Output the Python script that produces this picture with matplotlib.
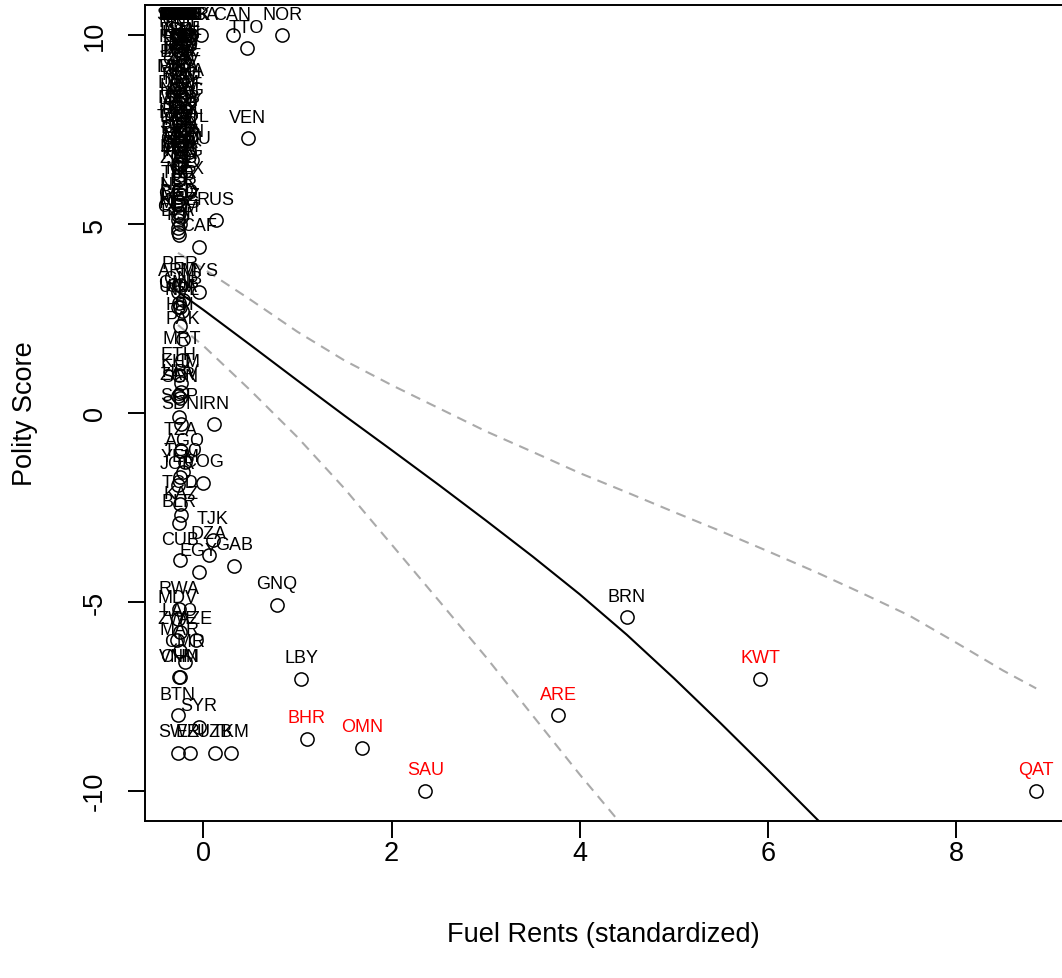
### IMPORTS ###
import matplotlib
matplotlib.use("Agg")
import matplotlib.pyplot as plt

plt.rcParams['font.family'] = ['Liberation Sans', 'DejaVu Sans']

### DATA ###
# country code, fuel rents (standardized), polity score
codes = ['AUS', 'AUT', 'BEL', 'CHE', 'CRI', 'CYP', 'CZE', 'DEU', 'DNK', 'ESP',
         'FIN', 'GRC', 'IRL', 'ISL', 'ITA', 'JPN', 'LTU', 'LUX', 'NLD', 'NZL',
         'PRT', 'SVN', 'SWE', 'URY', 'SVK', 'GBR', 'USA', 'CAN', 'NOR', 'MNG',
         'POL', 'TTO', 'CHL', 'FRA', 'ISR', 'HUN', 'KOR', 'EST', 'SLV', 'IND',
         'JAM', 'PAN', 'LVA', 'BGR', 'ZAF', 'CPV', 'BWA', 'MUS', 'BRA', 'ROU',
         'MNE', 'DOM', 'LSO', 'ARG', 'NIC', 'NAM', 'SRB', 'MKD', 'GUY', 'HND',
         'PRY', 'BOL', 'MDA', 'COL', 'TWN', 'PHL', 'VEN', 'SUR', 'GHA', 'BEN',
         'IDN', 'MLI', 'UKR', 'ECU', 'GTM', 'THA', 'SLB', 'MWI', 'LKA', 'ALB',
         'PNG', 'KEN', 'ZMB', 'MEX', 'TUR', 'LBR', 'NER', 'BGD', 'MOZ', 'GEO',
         'RUS', 'KGZ', 'MDG', 'COM', 'BFA', 'FJI', 'CAF', 'PER', 'ARM', 'MYS',
         'GNB', 'GMB', 'CIV', 'UGA', 'NPL', 'HTI', 'PAK', 'MRT', 'ETH', 'KHM',
         'HRV', 'ZAR', 'SEN', 'SGP', 'SDN', 'IRN', 'TZA', 'AGO', 'TGO', 'YEM',
         'COG', 'JOR', 'TCD', 'KAZ', 'BLR', 'TJK', 'DZA', 'CUB', 'EGY', 'GAB',
         'RWA', 'MDV', 'GNQ', 'LAO', 'ZWE', 'AZE', 'MAR', 'CMR', 'CHN', 'VNM',
         'LBY', 'BTN', 'SYR', 'SWZ', 'ERI', 'UZB', 'TKM', 'BHR', 'OMN', 'SAU',
         'ARE', 'BRN', 'KWT', 'QAT']
fuel = [-0.20, -0.27, -0.27, -0.28, -0.27, -0.26, -0.25, -0.26, -0.13, -0.27,
        -0.28, -0.27, -0.28, -0.28, -0.24, -0.28, -0.27, -0.28, -0.21, -0.18,
        -0.28, -0.28, -0.28, -0.28, -0.27, -0.15, -0.03, 0.31, 0.84, -0.25,
        -0.22, 0.46, -0.20, -0.27, -0.27, -0.24, -0.27, -0.25, -0.21, -0.22,
        -0.27, -0.24, -0.27, -0.26, -0.20, -0.24, -0.26, -0.28, -0.18, -0.23,
        -0.21, -0.26, -0.27, -0.19, -0.24, -0.25, -0.23, -0.27, -0.22, -0.27,
        -0.25, -0.19, -0.26, -0.14, -0.28, -0.24, 0.47, -0.27, -0.24, -0.26,
        -0.15, -0.27, -0.22, -0.12, -0.25, -0.24, -0.27, -0.27, -0.26, -0.25,
        -0.20, -0.25, -0.26, -0.19, -0.26, -0.27, -0.26, -0.26, -0.24, -0.27,
        0.13, -0.27, -0.25, -0.27, -0.27, -0.26, -0.05, -0.25, -0.27, -0.05,
        -0.22, -0.26, -0.25, -0.27, -0.23, -0.25, -0.22, -0.23, -0.26, -0.24,
        -0.24, -0.27, -0.25, -0.26, -0.24, 0.11, -0.24, -0.20, -0.22, -0.25,
        0.00, -0.27, -0.25, -0.24, -0.26, 0.10, 0.06, -0.25, -0.05, 0.33,
        -0.26, -0.27, 0.78, -0.25, -0.28, -0.08, -0.25, -0.20, -0.25, -0.26,
        1.04, -0.27, -0.05, -0.27, -0.14, 0.12, 0.29, 1.10, 1.69, 2.36,
        3.77, 4.50, 5.92, 8.85]
polity = [10, 10, 10, 10, 10, 10, 10, 10, 10, 10,
          10, 10, 10, 10, 10, 10, 10, 10, 10, 10,
          10, 10, 10, 10, 10, 10, 10, 10, 10, 9.8,
          9.8, 9.65, 9.6, 9.6, 9.6, 9.5, 9.4, 9.4, 9.3, 9.2,
          9.1, 9.2, 9.0, 9.0, 8.9, 8.8, 8.6, 8.6, 8.5, 8.4,
          8.3, 8.2, 8.1, 8.0, 7.9, 8.0, 7.8, 7.8, 7.7, 7.6,
          7.5, 7.5, 7.4, 7.3, 7.3, 7.2, 7.27, 7.1, 7.0, 7.0,
          6.9, 6.8, 6.8, 6.7, 6.7, 6.6, 6.6, 6.5, 6.5, 6.6,
          6.4, 6.3, 6.2, 5.9, 5.8, 5.6, 5.5, 5.3, 5.2, 5.25,
          5.1, 5.1, 5.0, 4.9, 4.8, 4.7, 4.4, 3.4, 3.2, 3.2,
          3.0, 2.9, 2.8, 2.8, 2.7, 2.3, 1.95, 1.4, 1.0, 0.8,
          0.55, 0.45, 0.4, -0.1, -0.3, -0.3, -1.0, -1.3, -1.55, -1.7,
          -1.85, -1.9, -2.4, -2.7, -2.9, -3.35, -3.75, -3.9, -4.2, -4.05,
          -5.2, -5.45, -5.07, -5.8, -6.0, -6.0, -6.3, -6.6, -7.0, -7.0,
          -7.03, -8.0, -8.3, -9.0, -9.0, -9.0, -9.0, -8.62, -8.86, -10,
          -8.0, -5.41, -7.03, -10]

# gulf monarchies labelled in red
highlight = ['BHR', 'OMN', 'SAU', 'ARE', 'KWT', 'QAT']

# fitted curve and its interval
mid_x = [-0.27, 0, 0.5, 1.0, 1.5, 2.0, 2.5, 3.0, 3.5, 4.0, 4.5, 5.0, 5.5, 6.0, 6.5, 7.0]
mid_y = [3.21, 2.73, 1.80, 0.86, -0.07, -0.98, -1.90, -2.84, -3.80, -4.80, -5.87,
         -7.02, -8.22, -9.45, -10.70, -11.95]
hi_x = [-0.27, 0, 0.5, 1.0, 1.5, 2.0, 2.5, 3.0, 3.5, 4.0, 4.5, 5.0, 5.5, 6.0, 6.5,
        7.0, 7.5, 8.0, 8.5, 8.85]
hi_y = [4.24, 3.82, 3.0, 2.15, 1.39, 0.74, 0.13, -0.48, -1.03, -1.59, -2.1, -2.62,
        -3.13, -3.66, -4.2, -4.77, -5.36, -6.08, -6.82, -7.29]
lo_x = [-0.27, 0, 0.5, 1.0, 1.5, 2.0, 2.5, 3.0, 3.5, 4.0, 4.5, 5.0]
lo_y = [2.33, 1.78, 0.60, -0.64, -2.0, -3.48, -4.96, -6.45, -8.01, -9.57, -11.06, -12.3]


### PLOT ###
fig = plt.figure(figsize=(10.62, 9.79), dpi=100)
ax = fig.add_axes([145 / 1062, 1 - 822 / 979, 926 / 1062, 816 / 979])

ax.plot(hi_x, hi_y, color='#aaaaaa', lw=1.5, dashes=(4.8, 3.4))
ax.plot(lo_x, lo_y, color='#aaaaaa', lw=1.5, dashes=(4.8, 3.4))
ax.plot(mid_x, mid_y, color='black', lw=1.5)

ax.plot(fuel, polity, linestyle='none', marker='o', ms=9.5, mfc='none',
        mec='black', mew=1.1, clip_on=True)

for c, x, y in zip(codes, fuel, polity):
    ax.annotate(c, (x, y), xytext=(0, 12), textcoords='offset points',
                ha='center', va='baseline', fontsize=13,
                color='red' if c in highlight else 'black', clip_on=True)

ax.set_xlim(-0.62, 9.22)
ax.set_ylim(-10.8, 10.8)
ax.set_xticks([0, 2, 4, 6, 8])
ax.set_yticks([-10, -5, 0, 5, 10])
ax.set_yticklabels(['-10', '-5', '0', '5', '10'], rotation=90, va='center')

for s in ax.spines.values():
    s.set_linewidth(1.4)
ax.tick_params(direction='out', length=12.5, width=1.4, labelsize=19.5)
ax.tick_params(axis='x', pad=1.5)
ax.tick_params(axis='y', pad=14)

ax.set_xlabel('Fuel Rents (standardized)', fontsize=19.5)
ax.set_ylabel('Polity Score', fontsize=19.5)
ax.xaxis.set_label_coords(0.5 * (1062 - 145) / 926, -(922 - 822) / 816)
ax.yaxis.set_label_coords(-(145 - 38) / 926, 0.5)

fig.savefig('out.png', dpi=100)
